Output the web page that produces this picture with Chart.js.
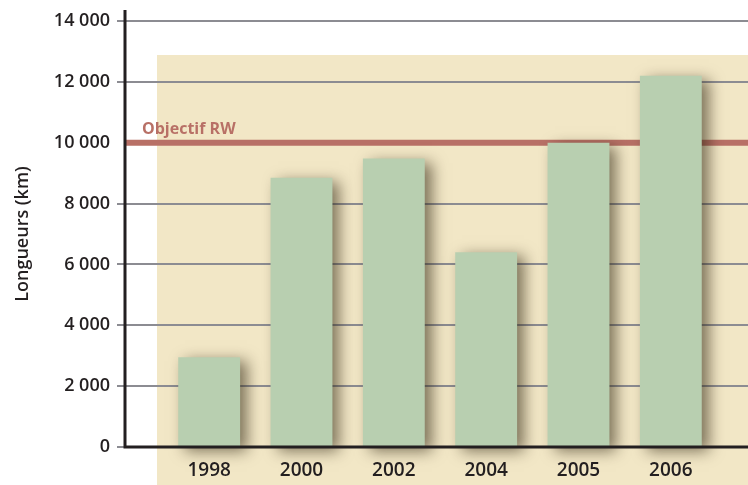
<!DOCTYPE html>
<html>
<head>
<meta charset="utf-8">
<script src="https://cdn.jsdelivr.net/npm/chart.js@4/dist/chart.umd.min.js"></script>
<style>
  html, body { margin: 0; padding: 0; background: #fff; }
  #wrap { width: 748px; height: 485px; position: relative; }
</style>
</head>
<body>
<div id="wrap"><canvas id="longueurs"></canvas></div>
<script>
const annees = ['1998', '2000', '2002', '2004', '2005', '2006'];
const longueurs = [2950, 8850, 9480, 6400, 10000, 12200];
const objectif = 10000;
const objectifLabel = 'Objectif RW';
const yTicks = [0, 2000, 4000, 6000, 8000, 10000, 12000, 14000];

const BEIGE = '#f2e7c6';
const VERT = '#b8cfb0';
const ROUGE = '#b87066';
const GRIS = '#8c8c92';
const NOIR = '#231f20';

// 14000 -> "14 000"
const milliers = v => String(v).replace(/\B(?=(\d{3})+(?!\d))/g, ' ');

const decor = {
    id: 'decor',
    beforeDraw(chart) {
        const { ctx, width, height } = chart;
        ctx.save();
        ctx.fillStyle = BEIGE;
        ctx.fillRect(157, 55, width - 157, height - 55);
        ctx.restore();
    },
    beforeDatasetsDraw(chart) {
        const { ctx, width, scales: { y } } = chart;
        const xAxe = y.right - 38;
        ctx.save();
        // lignes de grille, sauf celle couverte par l'objectif
        ctx.strokeStyle = GRIS;
        ctx.lineWidth = 2;
        yTicks.forEach(v => {
            if (v === objectif) return;
            const py = Math.round(y.getPixelForValue(v));
            ctx.beginPath();
            ctx.moveTo(xAxe - 8, py);
            ctx.lineTo(width, py);
            ctx.stroke();
        });
        // ligne d'objectif
        const py = y.getPixelForValue(objectif);
        ctx.strokeStyle = ROUGE;
        ctx.lineWidth = 6;
        ctx.beginPath();
        ctx.moveTo(xAxe, py);
        ctx.lineTo(width, py);
        ctx.stroke();
        ctx.fillStyle = ROUGE;
        ctx.font = 'bold 16px "Open Sans"';
        ctx.textBaseline = 'alphabetic';
        ctx.fillText(objectifLabel, 142, py - 9);
        ctx.restore();

        // ombre portée des barres
        ctx.save();
        ctx.shadowColor = 'rgba(45, 35, 15, 0.6)';
        ctx.shadowBlur = 14;
        ctx.shadowOffsetX = 7;
        ctx.shadowOffsetY = 4;
    },
    afterDatasetsDraw(chart) {
        const { ctx, width, scales: { y } } = chart;
        ctx.restore();
        const xAxe = y.right - 38;
        const y0 = y.getPixelForValue(0);
        ctx.save();
        ctx.strokeStyle = NOIR;
        ctx.lineWidth = 3;
        ctx.beginPath();
        ctx.moveTo(xAxe, 10);
        ctx.lineTo(xAxe, y0);
        ctx.lineTo(width, y0);
        ctx.stroke();
        ctx.restore();
    }
};

new Chart(document.getElementById('longueurs'), {
    type: 'bar',
    data: {
        labels: annees,
        datasets: [{
            data: longueurs,
            backgroundColor: VERT,
            borderWidth: 0,
            barPercentage: 0.67,
            categoryPercentage: 1,
            clip: false
        }]
    },
    options: {
        responsive: true,
        maintainAspectRatio: false,
        animation: false,
        layout: { padding: { top: 21, right: 31, left: 0, bottom: 0 } },
        plugins: { legend: { display: false }, tooltip: { enabled: false } },
        scales: {
            x: {
                grid: { display: false, drawTicks: false },
                border: { display: false },
                ticks: { color: NOIR, padding: 12, font: { family: 'Open Sans', size: 19, weight: 600 } },
                afterFit(scale) {
                    scale.height = 38;
                    scale.paddingLeft = 0;
                    scale.paddingRight = 0;
                }
            },
            y: {
                min: 0,
                max: 14000,
                afterBuildTicks(scale) { scale.ticks = yTicks.map(v => ({ value: v })); },
                grid: { display: false, drawTicks: false },
                border: { display: false },
                ticks: {
                    color: NOIR,
                    padding: 53,
                    font: { family: 'Open Sans', size: 18, weight: 600 },
                    callback: v => milliers(v)
                },
                title: {
                    display: true,
                    text: 'Longueurs (km)',
                    color: NOIR,
                    font: { family: 'Open Sans', size: 18, weight: 600 },
                    padding: { top: 12, bottom: 0 }
                },
                afterFit(scale) {
                    // la marge des étiquettes ne doit pas réduire la zone du graphique
                    scale.width = 163;
                    scale.paddingTop = 0;
                    scale.paddingBottom = 0;
                }
            }
        }
    },
    plugins: [decor]
});
</script>
</body>
</html>
